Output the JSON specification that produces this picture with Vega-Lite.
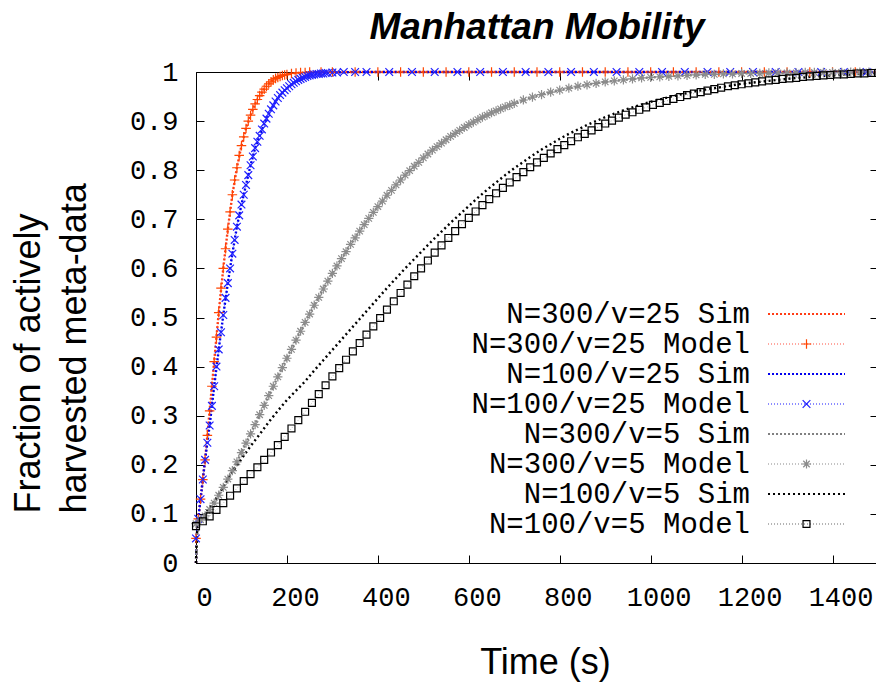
{
  "$schema": "https://vega.github.io/schema/vega-lite/v6.json",
  "width": 682,
  "height": 491,
  "autosize": "none",
  "padding": {"left": 196, "top": 72, "right": 0, "bottom": 120},
  "background": "white",
  "title": {"text": "Manhattan Mobility", "font": "Liberation Sans", "fontSize": 37, "fontWeight": "bold", "fontStyle": "italic", "color": "#000000", "anchor": "middle", "offset": 11},
  "data": {"values": [
    {"s":"N=300/v=25 Sim","t":0,"f":0},{"s":"N=300/v=25 Sim","t":2,"f":0.06},{"s":"N=300/v=25 Sim","t":5,"f":0.09},{"s":"N=300/v=25 Sim","t":10,"f":0.13},{"s":"N=300/v=25 Sim","t":20,"f":0.21},{"s":"N=300/v=25 Sim","t":30,"f":0.31},{"s":"N=300/v=25 Sim","t":40,"f":0.41},{"s":"N=300/v=25 Sim","t":50,"f":0.51},{"s":"N=300/v=25 Sim","t":60,"f":0.6},{"s":"N=300/v=25 Sim","t":70,"f":0.68},{"s":"N=300/v=25 Sim","t":80,"f":0.75},{"s":"N=300/v=25 Sim","t":90,"f":0.805},{"s":"N=300/v=25 Sim","t":100,"f":0.85},{"s":"N=300/v=25 Sim","t":110,"f":0.885},{"s":"N=300/v=25 Sim","t":120,"f":0.912},{"s":"N=300/v=25 Sim","t":130,"f":0.935},{"s":"N=300/v=25 Sim","t":140,"f":0.952},{"s":"N=300/v=25 Sim","t":150,"f":0.965},{"s":"N=300/v=25 Sim","t":160,"f":0.976},{"s":"N=300/v=25 Sim","t":170,"f":0.984},{"s":"N=300/v=25 Sim","t":180,"f":0.989},{"s":"N=300/v=25 Sim","t":190,"f":0.993},{"s":"N=300/v=25 Sim","t":200,"f":0.995},{"s":"N=300/v=25 Sim","t":220,"f":0.998},{"s":"N=300/v=25 Sim","t":250,"f":1},{"s":"N=300/v=25 Sim","t":1500,"f":1},
    {"s":"N=300/v=25 Model","t":0,"f":0.05},{"s":"N=300/v=25 Model","t":5,"f":0.09},{"s":"N=300/v=25 Model","t":10,"f":0.13},{"s":"N=300/v=25 Model","t":15,"f":0.17},{"s":"N=300/v=25 Model","t":20,"f":0.21},{"s":"N=300/v=25 Model","t":25,"f":0.26},{"s":"N=300/v=25 Model","t":30,"f":0.31},{"s":"N=300/v=25 Model","t":35,"f":0.36},{"s":"N=300/v=25 Model","t":40,"f":0.41},{"s":"N=300/v=25 Model","t":45,"f":0.46},{"s":"N=300/v=25 Model","t":50,"f":0.51},{"s":"N=300/v=25 Model","t":55,"f":0.56},{"s":"N=300/v=25 Model","t":60,"f":0.6},{"s":"N=300/v=25 Model","t":65,"f":0.64},{"s":"N=300/v=25 Model","t":70,"f":0.68},{"s":"N=300/v=25 Model","t":75,"f":0.715},{"s":"N=300/v=25 Model","t":80,"f":0.75},{"s":"N=300/v=25 Model","t":85,"f":0.78},{"s":"N=300/v=25 Model","t":90,"f":0.805},{"s":"N=300/v=25 Model","t":95,"f":0.83},{"s":"N=300/v=25 Model","t":100,"f":0.85},{"s":"N=300/v=25 Model","t":105,"f":0.868},{"s":"N=300/v=25 Model","t":110,"f":0.885},{"s":"N=300/v=25 Model","t":115,"f":0.9},{"s":"N=300/v=25 Model","t":120,"f":0.912},{"s":"N=300/v=25 Model","t":125,"f":0.924},{"s":"N=300/v=25 Model","t":130,"f":0.935},{"s":"N=300/v=25 Model","t":135,"f":0.944},{"s":"N=300/v=25 Model","t":140,"f":0.952},{"s":"N=300/v=25 Model","t":145,"f":0.959},{"s":"N=300/v=25 Model","t":150,"f":0.965},{"s":"N=300/v=25 Model","t":155,"f":0.971},{"s":"N=300/v=25 Model","t":160,"f":0.976},{"s":"N=300/v=25 Model","t":165,"f":0.98},{"s":"N=300/v=25 Model","t":170,"f":0.984},{"s":"N=300/v=25 Model","t":175,"f":0.987},{"s":"N=300/v=25 Model","t":180,"f":0.989},{"s":"N=300/v=25 Model","t":185,"f":0.991},{"s":"N=300/v=25 Model","t":190,"f":0.993},{"s":"N=300/v=25 Model","t":195,"f":0.994},{"s":"N=300/v=25 Model","t":200,"f":0.995},{"s":"N=300/v=25 Model","t":210,"f":0.997},{"s":"N=300/v=25 Model","t":220,"f":0.998},{"s":"N=300/v=25 Model","t":230,"f":0.999},{"s":"N=300/v=25 Model","t":240,"f":0.999},{"s":"N=300/v=25 Model","t":250,"f":1},{"s":"N=300/v=25 Model","t":275,"f":1},{"s":"N=300/v=25 Model","t":300,"f":1},{"s":"N=300/v=25 Model","t":350,"f":1},{"s":"N=300/v=25 Model","t":400,"f":1},{"s":"N=300/v=25 Model","t":450,"f":1},{"s":"N=300/v=25 Model","t":500,"f":1},{"s":"N=300/v=25 Model","t":550,"f":1},{"s":"N=300/v=25 Model","t":600,"f":1},{"s":"N=300/v=25 Model","t":650,"f":1},{"s":"N=300/v=25 Model","t":700,"f":1},{"s":"N=300/v=25 Model","t":750,"f":1},{"s":"N=300/v=25 Model","t":800,"f":1},{"s":"N=300/v=25 Model","t":850,"f":1},{"s":"N=300/v=25 Model","t":900,"f":1},{"s":"N=300/v=25 Model","t":950,"f":1},{"s":"N=300/v=25 Model","t":1000,"f":1},{"s":"N=300/v=25 Model","t":1050,"f":1},{"s":"N=300/v=25 Model","t":1100,"f":1},{"s":"N=300/v=25 Model","t":1150,"f":1},{"s":"N=300/v=25 Model","t":1200,"f":1},{"s":"N=300/v=25 Model","t":1250,"f":1},{"s":"N=300/v=25 Model","t":1300,"f":1},{"s":"N=300/v=25 Model","t":1350,"f":1},{"s":"N=300/v=25 Model","t":1400,"f":1},{"s":"N=300/v=25 Model","t":1450,"f":1},{"s":"N=300/v=25 Model","t":1500,"f":1},
    {"s":"N=100/v=25 Sim","t":0,"f":0},{"s":"N=100/v=25 Sim","t":2,"f":0.06},{"s":"N=100/v=25 Sim","t":5,"f":0.09},{"s":"N=100/v=25 Sim","t":10,"f":0.13},{"s":"N=100/v=25 Sim","t":20,"f":0.21},{"s":"N=100/v=25 Sim","t":30,"f":0.28},{"s":"N=100/v=25 Sim","t":40,"f":0.36},{"s":"N=100/v=25 Sim","t":50,"f":0.435},{"s":"N=100/v=25 Sim","t":60,"f":0.505},{"s":"N=100/v=25 Sim","t":70,"f":0.57},{"s":"N=100/v=25 Sim","t":80,"f":0.63},{"s":"N=100/v=25 Sim","t":90,"f":0.685},{"s":"N=100/v=25 Sim","t":100,"f":0.73},{"s":"N=100/v=25 Sim","t":110,"f":0.77},{"s":"N=100/v=25 Sim","t":120,"f":0.81},{"s":"N=100/v=25 Sim","t":130,"f":0.845},{"s":"N=100/v=25 Sim","t":140,"f":0.87},{"s":"N=100/v=25 Sim","t":150,"f":0.895},{"s":"N=100/v=25 Sim","t":160,"f":0.915},{"s":"N=100/v=25 Sim","t":170,"f":0.932},{"s":"N=100/v=25 Sim","t":180,"f":0.947},{"s":"N=100/v=25 Sim","t":190,"f":0.958},{"s":"N=100/v=25 Sim","t":200,"f":0.967},{"s":"N=100/v=25 Sim","t":220,"f":0.981},{"s":"N=100/v=25 Sim","t":240,"f":0.99},{"s":"N=100/v=25 Sim","t":260,"f":0.995},{"s":"N=100/v=25 Sim","t":280,"f":0.997},{"s":"N=100/v=25 Sim","t":300,"f":0.999},{"s":"N=100/v=25 Sim","t":350,"f":1},{"s":"N=100/v=25 Sim","t":1500,"f":1},
    {"s":"N=100/v=25 Model","t":0,"f":0.05},{"s":"N=100/v=25 Model","t":5,"f":0.09},{"s":"N=100/v=25 Model","t":10,"f":0.13},{"s":"N=100/v=25 Model","t":15,"f":0.17},{"s":"N=100/v=25 Model","t":20,"f":0.21},{"s":"N=100/v=25 Model","t":25,"f":0.245},{"s":"N=100/v=25 Model","t":30,"f":0.28},{"s":"N=100/v=25 Model","t":35,"f":0.32},{"s":"N=100/v=25 Model","t":40,"f":0.36},{"s":"N=100/v=25 Model","t":45,"f":0.4},{"s":"N=100/v=25 Model","t":50,"f":0.435},{"s":"N=100/v=25 Model","t":55,"f":0.47},{"s":"N=100/v=25 Model","t":60,"f":0.505},{"s":"N=100/v=25 Model","t":65,"f":0.54},{"s":"N=100/v=25 Model","t":70,"f":0.57},{"s":"N=100/v=25 Model","t":75,"f":0.6},{"s":"N=100/v=25 Model","t":80,"f":0.63},{"s":"N=100/v=25 Model","t":85,"f":0.658},{"s":"N=100/v=25 Model","t":90,"f":0.685},{"s":"N=100/v=25 Model","t":95,"f":0.708},{"s":"N=100/v=25 Model","t":100,"f":0.73},{"s":"N=100/v=25 Model","t":105,"f":0.75},{"s":"N=100/v=25 Model","t":110,"f":0.77},{"s":"N=100/v=25 Model","t":115,"f":0.79},{"s":"N=100/v=25 Model","t":120,"f":0.81},{"s":"N=100/v=25 Model","t":125,"f":0.828},{"s":"N=100/v=25 Model","t":130,"f":0.845},{"s":"N=100/v=25 Model","t":135,"f":0.858},{"s":"N=100/v=25 Model","t":140,"f":0.87},{"s":"N=100/v=25 Model","t":145,"f":0.883},{"s":"N=100/v=25 Model","t":150,"f":0.895},{"s":"N=100/v=25 Model","t":155,"f":0.905},{"s":"N=100/v=25 Model","t":160,"f":0.915},{"s":"N=100/v=25 Model","t":165,"f":0.924},{"s":"N=100/v=25 Model","t":170,"f":0.932},{"s":"N=100/v=25 Model","t":175,"f":0.94},{"s":"N=100/v=25 Model","t":180,"f":0.947},{"s":"N=100/v=25 Model","t":185,"f":0.953},{"s":"N=100/v=25 Model","t":190,"f":0.958},{"s":"N=100/v=25 Model","t":195,"f":0.963},{"s":"N=100/v=25 Model","t":200,"f":0.967},{"s":"N=100/v=25 Model","t":205,"f":0.971},{"s":"N=100/v=25 Model","t":210,"f":0.975},{"s":"N=100/v=25 Model","t":215,"f":0.978},{"s":"N=100/v=25 Model","t":220,"f":0.981},{"s":"N=100/v=25 Model","t":225,"f":0.984},{"s":"N=100/v=25 Model","t":230,"f":0.986},{"s":"N=100/v=25 Model","t":235,"f":0.988},{"s":"N=100/v=25 Model","t":240,"f":0.99},{"s":"N=100/v=25 Model","t":245,"f":0.992},{"s":"N=100/v=25 Model","t":250,"f":0.993},{"s":"N=100/v=25 Model","t":255,"f":0.994},{"s":"N=100/v=25 Model","t":260,"f":0.995},{"s":"N=100/v=25 Model","t":265,"f":0.996},{"s":"N=100/v=25 Model","t":270,"f":0.996},{"s":"N=100/v=25 Model","t":275,"f":0.997},{"s":"N=100/v=25 Model","t":280,"f":0.997},{"s":"N=100/v=25 Model","t":285,"f":0.998},{"s":"N=100/v=25 Model","t":290,"f":0.998},{"s":"N=100/v=25 Model","t":300,"f":0.999},{"s":"N=100/v=25 Model","t":310,"f":0.999},{"s":"N=100/v=25 Model","t":325,"f":1},{"s":"N=100/v=25 Model","t":350,"f":1},{"s":"N=100/v=25 Model","t":375,"f":1},{"s":"N=100/v=25 Model","t":425,"f":1},{"s":"N=100/v=25 Model","t":475,"f":1},{"s":"N=100/v=25 Model","t":525,"f":1},{"s":"N=100/v=25 Model","t":575,"f":1},{"s":"N=100/v=25 Model","t":625,"f":1},{"s":"N=100/v=25 Model","t":675,"f":1},{"s":"N=100/v=25 Model","t":725,"f":1},{"s":"N=100/v=25 Model","t":775,"f":1},{"s":"N=100/v=25 Model","t":825,"f":1},{"s":"N=100/v=25 Model","t":875,"f":1},{"s":"N=100/v=25 Model","t":925,"f":1},{"s":"N=100/v=25 Model","t":975,"f":1},{"s":"N=100/v=25 Model","t":1025,"f":1},{"s":"N=100/v=25 Model","t":1075,"f":1},{"s":"N=100/v=25 Model","t":1125,"f":1},{"s":"N=100/v=25 Model","t":1175,"f":1},{"s":"N=100/v=25 Model","t":1225,"f":1},{"s":"N=100/v=25 Model","t":1275,"f":1},{"s":"N=100/v=25 Model","t":1325,"f":1},{"s":"N=100/v=25 Model","t":1375,"f":1},{"s":"N=100/v=25 Model","t":1425,"f":1},{"s":"N=100/v=25 Model","t":1475,"f":1},
    {"s":"N=300/v=5 Sim","t":0,"f":0},{"s":"N=300/v=5 Sim","t":3,"f":0.06},{"s":"N=300/v=5 Sim","t":10,"f":0.085},{"s":"N=300/v=5 Sim","t":20,"f":0.096},{"s":"N=300/v=5 Sim","t":40,"f":0.122},{"s":"N=300/v=5 Sim","t":60,"f":0.154},{"s":"N=300/v=5 Sim","t":80,"f":0.188},{"s":"N=300/v=5 Sim","t":100,"f":0.225},{"s":"N=300/v=5 Sim","t":120,"f":0.263},{"s":"N=300/v=5 Sim","t":140,"f":0.302},{"s":"N=300/v=5 Sim","t":160,"f":0.341},{"s":"N=300/v=5 Sim","t":180,"f":0.379},{"s":"N=300/v=5 Sim","t":200,"f":0.417},{"s":"N=300/v=5 Sim","t":220,"f":0.454},{"s":"N=300/v=5 Sim","t":240,"f":0.49},{"s":"N=300/v=5 Sim","t":260,"f":0.525},{"s":"N=300/v=5 Sim","t":280,"f":0.558},{"s":"N=300/v=5 Sim","t":300,"f":0.59},{"s":"N=300/v=5 Sim","t":320,"f":0.62},{"s":"N=300/v=5 Sim","t":340,"f":0.649},{"s":"N=300/v=5 Sim","t":360,"f":0.676},{"s":"N=300/v=5 Sim","t":380,"f":0.702},{"s":"N=300/v=5 Sim","t":400,"f":0.726},{"s":"N=300/v=5 Sim","t":420,"f":0.749},{"s":"N=300/v=5 Sim","t":440,"f":0.77},{"s":"N=300/v=5 Sim","t":460,"f":0.79},{"s":"N=300/v=5 Sim","t":480,"f":0.808},{"s":"N=300/v=5 Sim","t":500,"f":0.825},{"s":"N=300/v=5 Sim","t":520,"f":0.841},{"s":"N=300/v=5 Sim","t":540,"f":0.855},{"s":"N=300/v=5 Sim","t":560,"f":0.869},{"s":"N=300/v=5 Sim","t":580,"f":0.881},{"s":"N=300/v=5 Sim","t":600,"f":0.893},{"s":"N=300/v=5 Sim","t":620,"f":0.903},{"s":"N=300/v=5 Sim","t":640,"f":0.912},{"s":"N=300/v=5 Sim","t":660,"f":0.921},{"s":"N=300/v=5 Sim","t":680,"f":0.929},{"s":"N=300/v=5 Sim","t":700,"f":0.936},{"s":"N=300/v=5 Sim","t":740,"f":0.949},{"s":"N=300/v=5 Sim","t":780,"f":0.959},{"s":"N=300/v=5 Sim","t":820,"f":0.967},{"s":"N=300/v=5 Sim","t":860,"f":0.974},{"s":"N=300/v=5 Sim","t":900,"f":0.98},{"s":"N=300/v=5 Sim","t":950,"f":0.985},{"s":"N=300/v=5 Sim","t":1000,"f":0.989},{"s":"N=300/v=5 Sim","t":1100,"f":0.994},{"s":"N=300/v=5 Sim","t":1200,"f":0.997},{"s":"N=300/v=5 Sim","t":1300,"f":0.998},{"s":"N=300/v=5 Sim","t":1400,"f":0.999},{"s":"N=300/v=5 Sim","t":1500,"f":1},
    {"s":"N=300/v=5 Model","t":0,"f":0.08},{"s":"N=300/v=5 Model","t":10,"f":0.088},{"s":"N=300/v=5 Model","t":20,"f":0.096},{"s":"N=300/v=5 Model","t":30,"f":0.109},{"s":"N=300/v=5 Model","t":40,"f":0.122},{"s":"N=300/v=5 Model","t":50,"f":0.138},{"s":"N=300/v=5 Model","t":60,"f":0.154},{"s":"N=300/v=5 Model","t":70,"f":0.171},{"s":"N=300/v=5 Model","t":80,"f":0.188},{"s":"N=300/v=5 Model","t":90,"f":0.206},{"s":"N=300/v=5 Model","t":100,"f":0.225},{"s":"N=300/v=5 Model","t":110,"f":0.244},{"s":"N=300/v=5 Model","t":120,"f":0.263},{"s":"N=300/v=5 Model","t":130,"f":0.282},{"s":"N=300/v=5 Model","t":140,"f":0.302},{"s":"N=300/v=5 Model","t":150,"f":0.321},{"s":"N=300/v=5 Model","t":160,"f":0.341},{"s":"N=300/v=5 Model","t":170,"f":0.36},{"s":"N=300/v=5 Model","t":180,"f":0.379},{"s":"N=300/v=5 Model","t":190,"f":0.398},{"s":"N=300/v=5 Model","t":200,"f":0.417},{"s":"N=300/v=5 Model","t":210,"f":0.435},{"s":"N=300/v=5 Model","t":220,"f":0.454},{"s":"N=300/v=5 Model","t":230,"f":0.472},{"s":"N=300/v=5 Model","t":240,"f":0.49},{"s":"N=300/v=5 Model","t":250,"f":0.507},{"s":"N=300/v=5 Model","t":260,"f":0.525},{"s":"N=300/v=5 Model","t":270,"f":0.541},{"s":"N=300/v=5 Model","t":280,"f":0.558},{"s":"N=300/v=5 Model","t":290,"f":0.574},{"s":"N=300/v=5 Model","t":300,"f":0.59},{"s":"N=300/v=5 Model","t":310,"f":0.605},{"s":"N=300/v=5 Model","t":320,"f":0.62},{"s":"N=300/v=5 Model","t":330,"f":0.634},{"s":"N=300/v=5 Model","t":340,"f":0.649},{"s":"N=300/v=5 Model","t":350,"f":0.662},{"s":"N=300/v=5 Model","t":360,"f":0.676},{"s":"N=300/v=5 Model","t":370,"f":0.689},{"s":"N=300/v=5 Model","t":380,"f":0.702},{"s":"N=300/v=5 Model","t":390,"f":0.714},{"s":"N=300/v=5 Model","t":400,"f":0.726},{"s":"N=300/v=5 Model","t":410,"f":0.737},{"s":"N=300/v=5 Model","t":420,"f":0.749},{"s":"N=300/v=5 Model","t":430,"f":0.759},{"s":"N=300/v=5 Model","t":440,"f":0.77},{"s":"N=300/v=5 Model","t":450,"f":0.78},{"s":"N=300/v=5 Model","t":460,"f":0.79},{"s":"N=300/v=5 Model","t":470,"f":0.799},{"s":"N=300/v=5 Model","t":480,"f":0.808},{"s":"N=300/v=5 Model","t":490,"f":0.816},{"s":"N=300/v=5 Model","t":500,"f":0.825},{"s":"N=300/v=5 Model","t":510,"f":0.833},{"s":"N=300/v=5 Model","t":520,"f":0.841},{"s":"N=300/v=5 Model","t":530,"f":0.848},{"s":"N=300/v=5 Model","t":540,"f":0.855},{"s":"N=300/v=5 Model","t":550,"f":0.862},{"s":"N=300/v=5 Model","t":560,"f":0.869},{"s":"N=300/v=5 Model","t":570,"f":0.875},{"s":"N=300/v=5 Model","t":580,"f":0.881},{"s":"N=300/v=5 Model","t":590,"f":0.887},{"s":"N=300/v=5 Model","t":600,"f":0.893},{"s":"N=300/v=5 Model","t":610,"f":0.898},{"s":"N=300/v=5 Model","t":620,"f":0.903},{"s":"N=300/v=5 Model","t":630,"f":0.908},{"s":"N=300/v=5 Model","t":640,"f":0.912},{"s":"N=300/v=5 Model","t":650,"f":0.917},{"s":"N=300/v=5 Model","t":660,"f":0.921},{"s":"N=300/v=5 Model","t":670,"f":0.925},{"s":"N=300/v=5 Model","t":680,"f":0.929},{"s":"N=300/v=5 Model","t":690,"f":0.932},{"s":"N=300/v=5 Model","t":700,"f":0.936},{"s":"N=300/v=5 Model","t":720,"f":0.943},{"s":"N=300/v=5 Model","t":740,"f":0.949},{"s":"N=300/v=5 Model","t":760,"f":0.954},{"s":"N=300/v=5 Model","t":780,"f":0.959},{"s":"N=300/v=5 Model","t":800,"f":0.963},{"s":"N=300/v=5 Model","t":820,"f":0.967},{"s":"N=300/v=5 Model","t":840,"f":0.971},{"s":"N=300/v=5 Model","t":860,"f":0.974},{"s":"N=300/v=5 Model","t":880,"f":0.977},{"s":"N=300/v=5 Model","t":900,"f":0.98},{"s":"N=300/v=5 Model","t":920,"f":0.982},{"s":"N=300/v=5 Model","t":940,"f":0.984},{"s":"N=300/v=5 Model","t":960,"f":0.986},{"s":"N=300/v=5 Model","t":980,"f":0.988},{"s":"N=300/v=5 Model","t":1000,"f":0.989},{"s":"N=300/v=5 Model","t":1020,"f":0.99},{"s":"N=300/v=5 Model","t":1040,"f":0.991},{"s":"N=300/v=5 Model","t":1060,"f":0.992},{"s":"N=300/v=5 Model","t":1080,"f":0.993},{"s":"N=300/v=5 Model","t":1100,"f":0.994},{"s":"N=300/v=5 Model","t":1120,"f":0.995},{"s":"N=300/v=5 Model","t":1140,"f":0.995},{"s":"N=300/v=5 Model","t":1160,"f":0.996},{"s":"N=300/v=5 Model","t":1180,"f":0.996},{"s":"N=300/v=5 Model","t":1200,"f":0.997},{"s":"N=300/v=5 Model","t":1220,"f":0.997},{"s":"N=300/v=5 Model","t":1240,"f":0.997},{"s":"N=300/v=5 Model","t":1260,"f":0.998},{"s":"N=300/v=5 Model","t":1280,"f":0.998},{"s":"N=300/v=5 Model","t":1300,"f":0.998},{"s":"N=300/v=5 Model","t":1320,"f":0.998},{"s":"N=300/v=5 Model","t":1340,"f":0.999},{"s":"N=300/v=5 Model","t":1360,"f":0.999},{"s":"N=300/v=5 Model","t":1380,"f":0.999},{"s":"N=300/v=5 Model","t":1400,"f":0.999},{"s":"N=300/v=5 Model","t":1420,"f":0.999},{"s":"N=300/v=5 Model","t":1440,"f":1},{"s":"N=300/v=5 Model","t":1460,"f":1},{"s":"N=300/v=5 Model","t":1480,"f":1},{"s":"N=300/v=5 Model","t":1500,"f":1},
    {"s":"N=100/v=5 Sim","t":0,"f":0},{"s":"N=100/v=5 Sim","t":2,"f":0.06},{"s":"N=100/v=5 Sim","t":5,"f":0.085},{"s":"N=100/v=5 Sim","t":20,"f":0.1},{"s":"N=100/v=5 Sim","t":40,"f":0.125},{"s":"N=100/v=5 Sim","t":60,"f":0.155},{"s":"N=100/v=5 Sim","t":80,"f":0.185},{"s":"N=100/v=5 Sim","t":100,"f":0.212},{"s":"N=100/v=5 Sim","t":120,"f":0.238},{"s":"N=100/v=5 Sim","t":140,"f":0.262},{"s":"N=100/v=5 Sim","t":160,"f":0.287},{"s":"N=100/v=5 Sim","t":180,"f":0.31},{"s":"N=100/v=5 Sim","t":200,"f":0.332},{"s":"N=100/v=5 Sim","t":220,"f":0.351},{"s":"N=100/v=5 Sim","t":240,"f":0.37},{"s":"N=100/v=5 Sim","t":260,"f":0.392},{"s":"N=100/v=5 Sim","t":280,"f":0.413},{"s":"N=100/v=5 Sim","t":300,"f":0.434},{"s":"N=100/v=5 Sim","t":320,"f":0.455},{"s":"N=100/v=5 Sim","t":340,"f":0.476},{"s":"N=100/v=5 Sim","t":360,"f":0.497},{"s":"N=100/v=5 Sim","t":380,"f":0.518},{"s":"N=100/v=5 Sim","t":400,"f":0.539},{"s":"N=100/v=5 Sim","t":420,"f":0.56},{"s":"N=100/v=5 Sim","t":440,"f":0.58},{"s":"N=100/v=5 Sim","t":460,"f":0.6},{"s":"N=100/v=5 Sim","t":480,"f":0.619},{"s":"N=100/v=5 Sim","t":500,"f":0.638},{"s":"N=100/v=5 Sim","t":520,"f":0.657},{"s":"N=100/v=5 Sim","t":540,"f":0.675},{"s":"N=100/v=5 Sim","t":560,"f":0.693},{"s":"N=100/v=5 Sim","t":580,"f":0.71},{"s":"N=100/v=5 Sim","t":600,"f":0.727},{"s":"N=100/v=5 Sim","t":620,"f":0.744},{"s":"N=100/v=5 Sim","t":640,"f":0.76},{"s":"N=100/v=5 Sim","t":660,"f":0.775},{"s":"N=100/v=5 Sim","t":680,"f":0.79},{"s":"N=100/v=5 Sim","t":700,"f":0.804},{"s":"N=100/v=5 Sim","t":720,"f":0.817},{"s":"N=100/v=5 Sim","t":740,"f":0.83},{"s":"N=100/v=5 Sim","t":760,"f":0.842},{"s":"N=100/v=5 Sim","t":780,"f":0.853},{"s":"N=100/v=5 Sim","t":800,"f":0.864},{"s":"N=100/v=5 Sim","t":820,"f":0.874},{"s":"N=100/v=5 Sim","t":840,"f":0.883},{"s":"N=100/v=5 Sim","t":860,"f":0.892},{"s":"N=100/v=5 Sim","t":880,"f":0.9},{"s":"N=100/v=5 Sim","t":900,"f":0.908},{"s":"N=100/v=5 Sim","t":920,"f":0.915},{"s":"N=100/v=5 Sim","t":940,"f":0.922},{"s":"N=100/v=5 Sim","t":960,"f":0.928},{"s":"N=100/v=5 Sim","t":980,"f":0.934},{"s":"N=100/v=5 Sim","t":1000,"f":0.939},{"s":"N=100/v=5 Sim","t":1020,"f":0.944},{"s":"N=100/v=5 Sim","t":1040,"f":0.949},{"s":"N=100/v=5 Sim","t":1060,"f":0.953},{"s":"N=100/v=5 Sim","t":1080,"f":0.957},{"s":"N=100/v=5 Sim","t":1100,"f":0.961},{"s":"N=100/v=5 Sim","t":1120,"f":0.964},{"s":"N=100/v=5 Sim","t":1140,"f":0.967},{"s":"N=100/v=5 Sim","t":1160,"f":0.97},{"s":"N=100/v=5 Sim","t":1180,"f":0.973},{"s":"N=100/v=5 Sim","t":1200,"f":0.976},{"s":"N=100/v=5 Sim","t":1220,"f":0.978},{"s":"N=100/v=5 Sim","t":1240,"f":0.98},{"s":"N=100/v=5 Sim","t":1260,"f":0.982},{"s":"N=100/v=5 Sim","t":1280,"f":0.984},{"s":"N=100/v=5 Sim","t":1300,"f":0.986},{"s":"N=100/v=5 Sim","t":1320,"f":0.988},{"s":"N=100/v=5 Sim","t":1340,"f":0.989},{"s":"N=100/v=5 Sim","t":1360,"f":0.991},{"s":"N=100/v=5 Sim","t":1380,"f":0.992},{"s":"N=100/v=5 Sim","t":1400,"f":0.993},{"s":"N=100/v=5 Sim","t":1420,"f":0.994},{"s":"N=100/v=5 Sim","t":1440,"f":0.995},{"s":"N=100/v=5 Sim","t":1460,"f":0.996},{"s":"N=100/v=5 Sim","t":1480,"f":0.997},{"s":"N=100/v=5 Sim","t":1500,"f":0.998},
    {"s":"N=100/v=5 Model","t":0,"f":0.075},{"s":"N=100/v=5 Model","t":15,"f":0.085},{"s":"N=100/v=5 Model","t":30,"f":0.095},{"s":"N=100/v=5 Model","t":45,"f":0.108},{"s":"N=100/v=5 Model","t":60,"f":0.122},{"s":"N=100/v=5 Model","t":75,"f":0.137},{"s":"N=100/v=5 Model","t":90,"f":0.152},{"s":"N=100/v=5 Model","t":105,"f":0.167},{"s":"N=100/v=5 Model","t":120,"f":0.181},{"s":"N=100/v=5 Model","t":135,"f":0.195},{"s":"N=100/v=5 Model","t":150,"f":0.21},{"s":"N=100/v=5 Model","t":165,"f":0.225},{"s":"N=100/v=5 Model","t":180,"f":0.24},{"s":"N=100/v=5 Model","t":195,"f":0.257},{"s":"N=100/v=5 Model","t":210,"f":0.274},{"s":"N=100/v=5 Model","t":225,"f":0.291},{"s":"N=100/v=5 Model","t":240,"f":0.308},{"s":"N=100/v=5 Model","t":255,"f":0.326},{"s":"N=100/v=5 Model","t":270,"f":0.344},{"s":"N=100/v=5 Model","t":285,"f":0.362},{"s":"N=100/v=5 Model","t":300,"f":0.38},{"s":"N=100/v=5 Model","t":315,"f":0.397},{"s":"N=100/v=5 Model","t":330,"f":0.414},{"s":"N=100/v=5 Model","t":345,"f":0.431},{"s":"N=100/v=5 Model","t":360,"f":0.448},{"s":"N=100/v=5 Model","t":375,"f":0.465},{"s":"N=100/v=5 Model","t":390,"f":0.482},{"s":"N=100/v=5 Model","t":405,"f":0.499},{"s":"N=100/v=5 Model","t":420,"f":0.516},{"s":"N=100/v=5 Model","t":435,"f":0.533},{"s":"N=100/v=5 Model","t":450,"f":0.55},{"s":"N=100/v=5 Model","t":465,"f":0.567},{"s":"N=100/v=5 Model","t":480,"f":0.584},{"s":"N=100/v=5 Model","t":495,"f":0.6},{"s":"N=100/v=5 Model","t":510,"f":0.616},{"s":"N=100/v=5 Model","t":525,"f":0.632},{"s":"N=100/v=5 Model","t":540,"f":0.647},{"s":"N=100/v=5 Model","t":555,"f":0.662},{"s":"N=100/v=5 Model","t":570,"f":0.676},{"s":"N=100/v=5 Model","t":585,"f":0.69},{"s":"N=100/v=5 Model","t":600,"f":0.703},{"s":"N=100/v=5 Model","t":615,"f":0.716},{"s":"N=100/v=5 Model","t":630,"f":0.729},{"s":"N=100/v=5 Model","t":645,"f":0.741},{"s":"N=100/v=5 Model","t":660,"f":0.753},{"s":"N=100/v=5 Model","t":675,"f":0.764},{"s":"N=100/v=5 Model","t":690,"f":0.775},{"s":"N=100/v=5 Model","t":705,"f":0.786},{"s":"N=100/v=5 Model","t":720,"f":0.796},{"s":"N=100/v=5 Model","t":735,"f":0.806},{"s":"N=100/v=5 Model","t":750,"f":0.816},{"s":"N=100/v=5 Model","t":765,"f":0.825},{"s":"N=100/v=5 Model","t":780,"f":0.834},{"s":"N=100/v=5 Model","t":795,"f":0.843},{"s":"N=100/v=5 Model","t":810,"f":0.851},{"s":"N=100/v=5 Model","t":825,"f":0.859},{"s":"N=100/v=5 Model","t":840,"f":0.867},{"s":"N=100/v=5 Model","t":855,"f":0.874},{"s":"N=100/v=5 Model","t":870,"f":0.881},{"s":"N=100/v=5 Model","t":885,"f":0.888},{"s":"N=100/v=5 Model","t":900,"f":0.895},{"s":"N=100/v=5 Model","t":915,"f":0.901},{"s":"N=100/v=5 Model","t":930,"f":0.907},{"s":"N=100/v=5 Model","t":945,"f":0.913},{"s":"N=100/v=5 Model","t":960,"f":0.918},{"s":"N=100/v=5 Model","t":975,"f":0.923},{"s":"N=100/v=5 Model","t":990,"f":0.928},{"s":"N=100/v=5 Model","t":1005,"f":0.933},{"s":"N=100/v=5 Model","t":1020,"f":0.937},{"s":"N=100/v=5 Model","t":1035,"f":0.941},{"s":"N=100/v=5 Model","t":1050,"f":0.945},{"s":"N=100/v=5 Model","t":1065,"f":0.949},{"s":"N=100/v=5 Model","t":1080,"f":0.953},{"s":"N=100/v=5 Model","t":1095,"f":0.956},{"s":"N=100/v=5 Model","t":1110,"f":0.959},{"s":"N=100/v=5 Model","t":1125,"f":0.962},{"s":"N=100/v=5 Model","t":1140,"f":0.965},{"s":"N=100/v=5 Model","t":1155,"f":0.968},{"s":"N=100/v=5 Model","t":1170,"f":0.971},{"s":"N=100/v=5 Model","t":1185,"f":0.973},{"s":"N=100/v=5 Model","t":1200,"f":0.975},{"s":"N=100/v=5 Model","t":1215,"f":0.977},{"s":"N=100/v=5 Model","t":1230,"f":0.979},{"s":"N=100/v=5 Model","t":1245,"f":0.981},{"s":"N=100/v=5 Model","t":1260,"f":0.983},{"s":"N=100/v=5 Model","t":1275,"f":0.984},{"s":"N=100/v=5 Model","t":1290,"f":0.986},{"s":"N=100/v=5 Model","t":1305,"f":0.987},{"s":"N=100/v=5 Model","t":1320,"f":0.988},{"s":"N=100/v=5 Model","t":1335,"f":0.99},{"s":"N=100/v=5 Model","t":1350,"f":0.991},{"s":"N=100/v=5 Model","t":1365,"f":0.992},{"s":"N=100/v=5 Model","t":1380,"f":0.993},{"s":"N=100/v=5 Model","t":1395,"f":0.994},{"s":"N=100/v=5 Model","t":1410,"f":0.995},{"s":"N=100/v=5 Model","t":1425,"f":0.995},{"s":"N=100/v=5 Model","t":1440,"f":0.996},{"s":"N=100/v=5 Model","t":1455,"f":0.997},{"s":"N=100/v=5 Model","t":1470,"f":0.997},{"s":"N=100/v=5 Model","t":1485,"f":0.998},{"s":"N=100/v=5 Model","t":1500,"f":0.998}
  ]},
  "layer": [
    {
      "transform": [{"filter": "indexof(datum.s, 'Model') >= 0"}],
      "mark": {"type": "line", "strokeWidth": 1},
      "encoding": {
        "x": {"field": "t", "type": "quantitative", "scale": {"domain": [0, 1500], "nice": false, "zero": false},
              "axis": {"orient": "bottom", "values": [0,200,400,600,800,1000,1200,1400], "format": "d", "labelPadding": 29, "labelOffset": 8, "labelFlush": false, "labelOverlap": false,
                       "title": "Time (s)", "titleX": 349, "titleY": 110, "titleAlign": "center", "titleBaseline": "alphabetic"}},
        "y": {"field": "f", "type": "quantitative", "scale": {"domain": [0, 1], "nice": false},
              "axis": {"orient": "left", "values": [0,0.1,0.2,0.3,0.4,0.5,0.6,0.7,0.8,0.9,1], "format": "~g", "labelPadding": 26, "labelFlush": false, "labelOverlap": false,
                       "title": ["Fraction of actively", "harvested meta-data"], "titleAngle": -90, "titleAlign": "left", "titleBaseline": "alphabetic", "titleX": -157, "titleY": 441, "titleLineHeight": 46}},
        "color": {"field": "s", "type": "nominal",
                  "scale": {"domain": ["N=300/v=25 Sim","N=300/v=25 Model","N=100/v=25 Sim","N=100/v=25 Model","N=300/v=5 Sim","N=300/v=5 Model","N=100/v=5 Sim","N=100/v=5 Model"],
                            "range": ["#ff3c14","#ffa8a0","#0000ee","#8c8cff","#808080","#c4c4c4","#000000","#b4b4b4"]},
                  "legend": {"title": null, "orient": "none", "legendX": 596, "legendY": 227.5, "symbolType": "M-5,0H5", "symbolSize": 237, "symbolStrokeWidth": 1.8, "symbolOffset": 0,
                             "labelAlign": "right", "labelOffset": -71}},
        "strokeDash": {"field": "s", "type": "nominal",
                       "scale": {"domain": ["N=300/v=25 Sim","N=300/v=25 Model","N=100/v=25 Sim","N=100/v=25 Model","N=300/v=5 Sim","N=300/v=5 Model","N=100/v=5 Sim","N=100/v=5 Model"],
                                 "range": [[2,2],[1,2],[2,2],[1,2],[2,2],[1,2],[2,3],[1,2]]},
                       "legend": {"title": null, "orient": "none", "legendX": 596, "legendY": 227.5, "symbolType": "M-5,0H5", "symbolSize": 237, "symbolStrokeWidth": 1.8, "symbolOffset": 0,
                             "labelAlign": "right", "labelOffset": -71}}
      }
    },
    {
      "transform": [{"filter": "indexof(datum.s, 'Sim') >= 0"}],
      "mark": {"type": "line", "strokeWidth": 2.4},
      "encoding": {
        "x": {"field": "t", "type": "quantitative", "axis": null},
        "y": {"field": "f", "type": "quantitative", "axis": null},
        "color": {"field": "s", "type": "nominal"},
        "strokeDash": {"field": "s", "type": "nominal"}
      }
    },
    {
      "transform": [{"filter": "indexof(datum.s, 'Model') >= 0"}],
      "mark": {"type": "point", "filled": false, "size": 237, "strokeWidth": 1.2, "opacity": 1},
      "encoding": {
        "x": {"field": "t", "type": "quantitative", "axis": {"orient": "top", "values": [0,200,400,600,800,1000,1200,1400], "labels": false, "title": null}},
        "y": {"field": "f", "type": "quantitative", "axis": {"orient": "right", "values": [0,0.1,0.2,0.3,0.4,0.5,0.6,0.7,0.8,0.9,1], "labels": false, "title": null}},
        "shape": {"field": "s", "type": "nominal",
                  "scale": {"domain": ["s1","N=300/v=25 Model","s2","N=100/v=25 Model","s3","N=300/v=5 Model","s4","N=100/v=5 Model"],
                            "range": ["M0,0","M-0.62,0H0.62M0,-0.62V0.62","M0,0","M-0.5,-0.5L0.5,0.5M-0.5,0.5L0.5,-0.5","M0,0","M-0.6,0H0.6M0,-0.6V0.6M-0.42,-0.42L0.42,0.42M-0.42,0.42L0.42,-0.42","M0,0","M-0.45,-0.45H0.45V0.45H-0.45Z"]},
                  "legend": {"title": null, "orient": "none", "legendX": 596, "legendY": 227.5, "symbolSize": 237, "symbolStrokeWidth": 1.2, "symbolOffset": 0, "labelOpacity": 0,
                             "labelAlign": "right", "labelOffset": -71, "labelExpr": "'\u00a0'"}},
        "stroke": {"field": "s", "type": "nominal",
                   "scale": {"domain": ["s1","N=300/v=25 Model","s2","N=100/v=25 Model","s3","N=300/v=5 Model","s4","N=100/v=5 Model"],
                             "range": ["#000000","#ff4500","#000000","#2020ff","#000000","#8c8c8c","#000000","#000000"]},
                  "legend": {"title": null, "orient": "none", "legendX": 596, "legendY": 227.5, "symbolSize": 237, "symbolStrokeWidth": 1.2, "symbolOffset": 0, "labelOpacity": 0,
                             "labelAlign": "right", "labelOffset": -71, "labelExpr": "'\u00a0'"}}
      }
    }
  ],
  "resolve": {"axis": {"x": "independent", "y": "independent"}},
  "config": {
    "view": {"stroke": "#000000", "strokeWidth": 1},
    "axis": {"grid": false, "domain": false, "tickColor": "#000000", "tickWidth": 1, "tickSize": -8,
             "labelFont": "Liberation Mono", "labelFontSize": 27, "labelColor": "#000000",
             "titleColor": "#000000", "titleFont": "Liberation Sans", "titleFontSize": 36, "titleFontWeight": "normal"},
    "legend": {"labelFont": "Liberation Mono", "labelFontSize": 29, "labelColor": "#000000", "labelLimit": 0, "rowPadding": -0.5, "padding": 0}
  }
}
